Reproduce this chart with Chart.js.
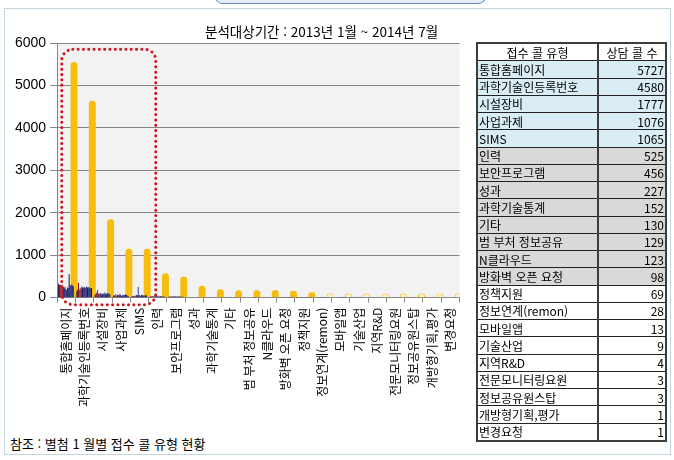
<!DOCTYPE html>
<html lang="ko">
<head>
<meta charset="utf-8">
<title>접수 콜 유형 현황</title>
<script src="https://cdn.jsdelivr.net/npm/chart.js@4.4.1/dist/chart.umd.min.js"></script>
<style>
  html, body { margin: 0; padding: 0; background: #fff; }
  body { width: 674px; height: 460px; position: relative; overflow: hidden; font-family: "Noto Sans CJK KR", sans-serif; color: #000; }
  #panel { position: absolute; left: 4px; top: 8px; width: 667px; height: 447px; border: 1px solid #c4d5de; box-sizing: border-box; }
  #tab { position: absolute; left: 214px; top: -20px; width: 273px; height: 24px; border: 1.5px solid #5d8dc3; border-radius: 9px; background: #e6eff8; box-sizing: border-box; }
  #chartBox { position: absolute; left: 0; top: 0; width: 470px; height: 412px; }
  #period { position: absolute; left: 205px; top: 24px; font-size: 13.5px; line-height: 14px; white-space: nowrap; }
  #note { position: absolute; left: 10px; top: 437px; font-size: 13px; line-height: 14px; white-space: nowrap; }
  #callTable { position: absolute; left: 476px; top: 42px; width: 189px; height: 400px; border-collapse: collapse; border: 2px solid #3c3c3c; font-size: 12px; table-layout: fixed; }
  #callTable td { border-top: 1px solid #222; border-bottom: 1px solid #222; padding: 0 1px; line-height: 13px; height: 16px; white-space: nowrap; overflow: hidden; }
  #callTable td.name { border-right: 2px solid #3c3c3c; }
  #callTable td.num { text-align: right; }
  #callTable tr.head td { text-align: center; background: #fff; }
  #callTable tr.blue td { background: #daedf4; }
  #callTable tr.gray td { background: #d9d9d9; }
</style>
</head>
<body>
<div id="panel"></div>
<div id="tab"></div>
<div id="chartBox"><canvas id="barChart"></canvas></div>
<div id="period">분석대상기간 : 2013년 1월 ~ 2014년 7월</div>
<div id="note">참조 : 별첨 1 월별 접수 콜 유형 현황</div>
<table id="callTable">
  <colgroup><col style="width:121px"><col style="width:68px"></colgroup>
  <tbody id="tableBody"></tbody>
</table>
<script>
// 접수 콜 유형 (x축 / 표)
const categories = [
  '통합홈페이지', '과학기술인등록번호', '시설장비', '사업과제', 'SIMS', '인력',
  '보안프로그램', '성과', '과학기술통계', '기타', '범 부처 정보공유', 'N클라우드',
  '방화벽 오픈 요청', '정책지원', '정보연계(remon)', '모바일앱', '기술산업', '지역R&D',
  '전문모니터링요원', '정보공유원스탑', '개방형기획,평가', '변경요청'
];

// 표의 상담 콜 수
const callCounts = [5727, 4580, 1777, 1076, 1065, 525, 456, 227, 152, 130, 129, 123, 98, 69, 28, 13, 9, 4, 3, 3, 1, 1];

// 노란 막대 (그림에서 읽은 높이)
const totalBars = [5550, 4640, 1850, 1150, 1150, 575, 500, 280, 200, 175, 175, 180, 160, 125, 95, 95, 95, 95, 95, 95, 95, 95];

// 월 (2013.1 ~ 2014.7)
const months = [
  '2013.01', '2013.02', '2013.03', '2013.04', '2013.05', '2013.06', '2013.07', '2013.08', '2013.09', '2013.10',
  '2013.11', '2013.12', '2014.01', '2014.02', '2014.03', '2014.04', '2014.05', '2014.06', '2014.07'
];

// 유형별 월간 콜 수 (행 = 유형, 열 = 월)
const monthlyCounts = [
  [330, 300, 290, 310, 280, 300, 250, 220, 260, 200, 180, 240, 230, 550, 300, 280, 310, 290, 260],
  [150, 200, 350, 180, 220, 210, 260, 240, 230, 250, 240, 230, 260, 240, 250, 230, 240, 220, 230],
  [60, 90, 120, 180, 100, 80, 90, 110, 70, 80, 100, 90, 120, 80, 90, 100, 110, 90, 80],
  [30, 50, 60, 80, 40, 70, 60, 50, 90, 60, 40, 50, 70, 60, 50, 80, 60, 50, 40],
  [20, 30, 40, 30, 50, 40, 60, 50, 250, 60, 50, 40, 70, 50, 60, 40, 50, 60, 50],
  [20, 30, 25, 35, 30, 20, 40, 25, 30, 35, 20, 30, 25, 30, 35, 20, 30, 25, 20],
  [15, 20, 30, 25, 20, 35, 25, 20, 30, 25, 20, 25, 30, 20, 25, 20, 30, 15, 20],
  [10, 15, 10, 12, 8, 15, 10, 12, 15, 10, 12, 8, 15, 12, 10, 15, 12, 10, 8],
  [5, 8, 10, 6, 8, 10, 8, 6, 10, 8, 5, 8, 10, 8, 6, 8, 10, 6, 8],
  [6, 8, 5, 7, 8, 6, 7, 8, 5, 7, 6, 8, 7, 6, 8, 7, 6, 5, 7],
  [0, 0, 0, 5, 8, 10, 12, 10, 8, 10, 12, 8, 10, 8, 6, 8, 5, 6, 3],
  [0, 0, 0, 0, 0, 6, 10, 12, 10, 12, 10, 8, 12, 10, 8, 10, 8, 4, 3],
  [4, 6, 5, 6, 7, 5, 6, 4, 5, 6, 5, 7, 6, 5, 4, 5, 4, 4, 4],
  [3, 4, 5, 3, 4, 2, 5, 4, 3, 4, 3, 5, 4, 3, 4, 3, 4, 3, 3],
  [0, 0, 0, 0, 2, 3, 2, 1, 3, 2, 2, 1, 3, 2, 1, 2, 2, 1, 1],
  [0, 0, 0, 0, 0, 0, 0, 1, 2, 1, 1, 2, 1, 1, 2, 1, 1, 0, 0],
  [1, 0, 1, 0, 1, 0, 1, 0, 1, 1, 0, 1, 0, 1, 0, 0, 1, 0, 0],
  [0, 0, 0, 1, 0, 0, 1, 0, 0, 0, 1, 0, 0, 0, 1, 0, 0, 0, 0],
  [0, 0, 1, 0, 0, 0, 0, 1, 0, 0, 0, 0, 1, 0, 0, 0, 0, 0, 0],
  [0, 0, 0, 0, 1, 0, 0, 0, 0, 1, 0, 0, 0, 0, 0, 1, 0, 0, 0],
  [0, 0, 0, 0, 0, 0, 0, 0, 0, 0, 0, 1, 0, 0, 0, 0, 0, 0, 0],
  [0, 0, 0, 0, 0, 0, 0, 0, 0, 0, 0, 0, 0, 0, 0, 0, 1, 0, 0]
];

const monthColors = [
  '#1b1b50', '#2a2a70', '#8b1020', '#b8202a', '#9c2030', '#7a1f35', '#1f2f8f', '#151560', '#2c3e9e', '#0d0d45',
  '#3040a0', '#202070', '#2a3890', '#101050', '#253585', '#1a1a60', '#3a4aa8', '#202a80', '#151555'
];

// 표 만들기
const tbody = document.getElementById('tableBody');
tbody.innerHTML = '<tr class="head"><td class="name">접수 콜 유형</td><td>상담 콜 수</td></tr>' +
  categories.map((c, i) => {
    const cls = i < 5 ? 'blue' : (i < 13 ? 'gray' : '');
    return '<tr class="' + cls + '"><td class="name">' + c.replace('&', '&amp;') + '</td><td class="num">' + callCounts[i] + '</td></tr>';
  }).join('');

// 막대 데이터셋
const datasets = months.map((m, i) => ({
  label: m,
  data: monthlyCounts.map(row => row[i]),
  backgroundColor: monthColors[i],
  barPercentage: 1.25
}));
datasets.push({
  label: '합계',
  data: totalBars,
  backgroundColor: totalBars.map((v, i) => i < 14 ? '#f6bd0c' : '#fff1bf'),
  borderColor: totalBars.map((v, i) => i < 14 ? '#f6bd0c' : '#f0c020'),
  borderWidth: totalBars.map((v, i) => i < 14 ? 0 : 1),
  borderSkipped: 'bottom',
  borderRadius: { topLeft: 3.5, topRight: 3.5 },
  barPercentage: 8.5
});

const plotBackground = {
  id: 'plotBackground',
  beforeDraw(chart) {
    const a = chart.chartArea;
    const ctx = chart.ctx;
    ctx.save();
    ctx.fillStyle = '#f2f2f2';
    ctx.fillRect(a.left, a.top, a.right - a.left, a.bottom - a.top);
    ctx.restore();
  }
};

// 상위 5개 유형을 둘러싼 빨간 점선
const highlightBox = {
  id: 'highlightBox',
  afterDatasetsDraw(chart) {
    const x = chart.scales.x, y = chart.scales.y, ctx = chart.ctx;
    const left = x.getPixelForValue(0) - 4.5;
    const right = x.getPixelForValue(5) - 2;
    const top = y.getPixelForValue(5850);
    const bottom = y.getPixelForValue(0) + 7;
    ctx.save();
    ctx.strokeStyle = '#d0121c';
    ctx.lineWidth = 3;
    ctx.lineCap = 'round';
    ctx.setLineDash([0.01, 5.3]);
    ctx.beginPath();
    ctx.roundRect(left, top, right - left, bottom - top, 11);
    ctx.stroke();
    ctx.restore();
  }
};

new Chart(document.querySelector('#barChart'), {
  type: 'bar',
  data: { labels: categories, datasets: datasets },
  options: {
    responsive: true,
    maintainAspectRatio: false,
    animation: false,
    layout: { padding: { left: 11, right: 8, top: 43, bottom: 0 } },
    datasets: { bar: { categoryPercentage: 0.89 } },
    plugins: { legend: { display: false }, tooltip: { enabled: false } },
    scales: {
      x: {
        ticks: { autoSkip: false, maxRotation: 90, minRotation: 90, color: '#000', padding: 5,
                 font: { family: 'Noto Sans CJK KR', size: 12 } },
        grid: { drawOnChartArea: false, tickLength: 5, color: '#8a8a8a', offset: true },
        border: { color: '#8a8a8a' }
      },
      y: {
        min: 0,
        max: 6000,
        ticks: { stepSize: 1000, color: '#000', padding: 4, font: { family: 'Liberation Sans', size: 14 },
                 callback: v => String(v) },
        grid: { color: '#858585', tickLength: 7 },
        border: { color: '#858585' }
      }
    }
  },
  plugins: [plotBackground, highlightBox]
});
</script>
</body>
</html>
